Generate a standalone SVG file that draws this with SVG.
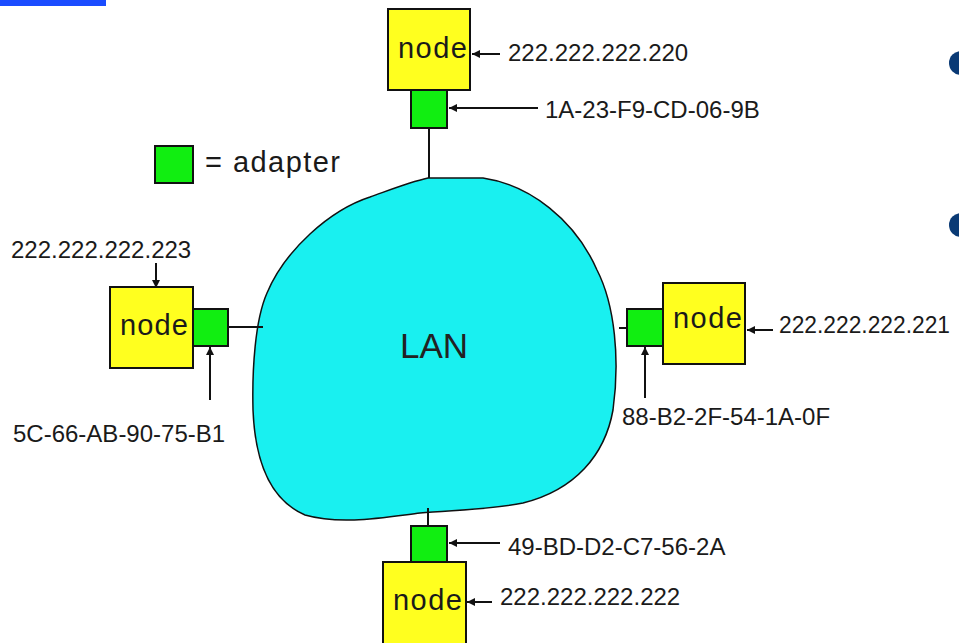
<svg xmlns="http://www.w3.org/2000/svg" width="959" height="643" viewBox="0 0 959 643">
<defs>
<marker id="ah" viewBox="0 0 10 10" refX="10" refY="5" markerWidth="8" markerHeight="8" markerUnits="userSpaceOnUse" orient="auto"><path d="M0,0 L10,5 L0,10 z" fill="#111"/></marker>
</defs>
<style>
.node{fill:#ffff1f;stroke:#111;stroke-width:2}
.adp{fill:#11ee11;stroke:#111;stroke-width:2}
.lbl{font-family:"Liberation Sans",Arial,sans-serif;font-size:24px;fill:#1a1a1a}
.nt{font-family:"Liberation Sans",Arial,sans-serif;font-size:29px;fill:#1a1a1a}
.ln{stroke:#111;stroke-width:2;fill:none}
.ar{stroke:#111;stroke-width:2;fill:none;marker-end:url(#ah)}
</style>
<rect width="959" height="643" fill="#fff"/>
<rect x="0" y="0" width="106" height="6" fill="#1a4cff"/>
<circle cx="961" cy="63" r="12" fill="#0a3a75"/>
<circle cx="961" cy="225" r="12" fill="#0a3a75"/>

<g id="legend">
<rect class="adp" x="155" y="146" width="38" height="37"/>
<text class="nt" x="205" y="172" textLength="135">= adapter</text>
</g>

<g id="lan">
<path d="M428,178 L483,178 C530,185 575,220 597,270 C615,305 620,360 613,410 C605,455 575,490 523,503 C490,510 450,510 420,513 C380,518 340,525 305,515 C270,500 255,460 253,410 C252,370 255,320 267,293 C285,250 330,210 370,197 C395,188 410,182 428,178 Z" fill="#19f0f0" stroke="#111" stroke-width="1.5"/>
<text x="400" y="358" font-family="'Liberation Sans',Arial,sans-serif" font-size="35" fill="#222">LAN</text>
</g>

<g id="node-top">
<rect class="node" x="388" y="9" width="82" height="81"/>
<text class="nt" x="398" y="58" textLength="69">node</text>
<rect class="adp" x="411" y="90" width="36" height="38"/>
<text class="lbl" x="508" y="61">222.222.222.220</text>
<text class="lbl" x="545" y="118">1A-23-F9-CD-06-9B</text>
</g>

<g id="node-left">
<rect class="node" x="110" y="287" width="83" height="81"/>
<text class="nt" x="120" y="335" textLength="68">node</text>
<rect class="adp" x="193" y="309" width="35" height="37"/>
<text class="lbl" x="11" y="258">222.222.222.223</text>
<text class="lbl" x="13" y="442">5C-66-AB-90-75-B1</text>
</g>

<g id="node-right">
<rect class="node" x="663" y="283" width="82" height="81"/>
<text class="nt" x="673" y="328" textLength="69">node</text>
<rect class="adp" x="627" y="309" width="36" height="37"/>
<text class="lbl" x="779" y="333" textLength="171" lengthAdjust="spacingAndGlyphs">222.222.222.221</text>
<text class="lbl" x="622" y="425">88-B2-2F-54-1A-0F</text>
</g>

<g id="node-bottom">
<rect class="node" x="383" y="562" width="83" height="90"/>
<text class="nt" x="393" y="610" textLength="69">node</text>
<rect class="adp" x="411" y="526" width="36" height="36"/>
<text class="lbl" x="508" y="555">49-BD-D2-C7-56-2A</text>
<text class="lbl" x="500" y="605">222.222.222.222</text>
</g>

<g id="connectors">
<line class="ln" x1="429" y1="128" x2="429" y2="178"/>
<line class="ln" x1="228" y1="327" x2="263" y2="327"/>
<line class="ln" x1="619" y1="328" x2="627" y2="328"/>
<line class="ln" x1="428" y1="508" x2="428" y2="526"/>
<line class="ar" x1="500" y1="54" x2="472" y2="54"/>
<line class="ar" x1="538" y1="108" x2="449" y2="108"/>
<line class="ar" x1="156" y1="263" x2="156" y2="288"/>
<line class="ar" x1="210" y1="400" x2="210" y2="347"/>
<line class="ar" x1="773" y1="330" x2="747" y2="330"/>
<line class="ar" x1="645" y1="398" x2="645" y2="347"/>
<line class="ar" x1="500" y1="543" x2="449" y2="543"/>
<line class="ar" x1="492" y1="602" x2="467" y2="602"/>
</g>
</svg>
